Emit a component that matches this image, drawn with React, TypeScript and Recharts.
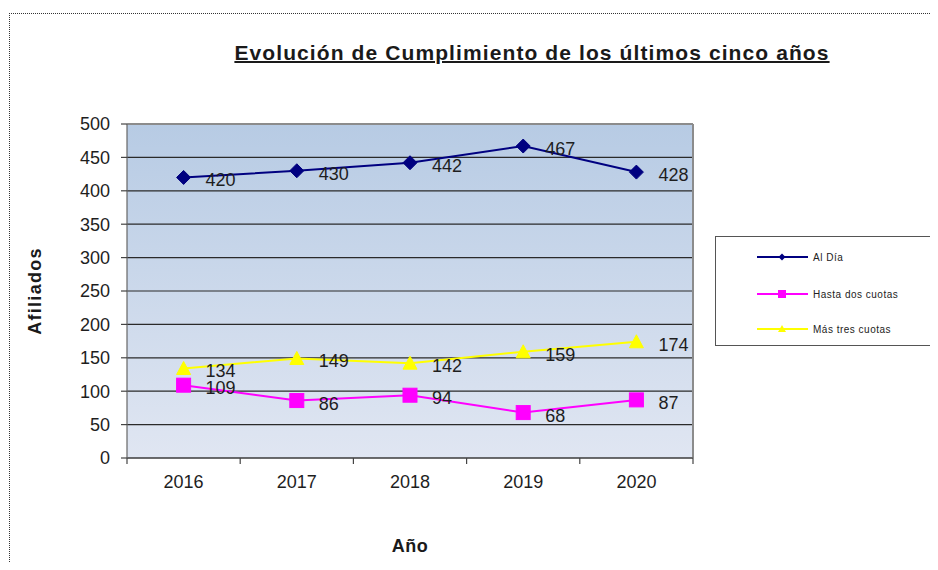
import React from 'react';
import { LineChart, Line, XAxis, YAxis, CartesianGrid, Legend, LabelList, ReferenceLine } from 'recharts';

const years = ['2016', '2017', '2018', '2019', '2020'];
const alDia = [420, 430, 442, 467, 428];
const hastaDos = [109, 86, 94, 68, 87];
const masTres = [134, 149, 142, 159, 174];
const yTicks = [0, 50, 100, 150, 200, 250, 300, 350, 400, 450, 500];
const xTicks = [-0.5, 0, 0.5, 1, 1.5, 2, 2.5, 3, 3.5, 4, 4.5];

const seriesNames = ['Al Día', 'Hasta dos cuotas', 'Más tres cuotas'];
const seriesColors = ['#000080', '#ff00ff', '#ffff00'];

const data = years.map((y, i) => ({
  x: i,
  year: y,
  alDia: alDia[i],
  hastaDos: hastaDos[i],
  masTres: masTres[i],
}));

const FONT = '"Liberation Sans", Arial, sans-serif';

const Diamond = (props: any) => {
  const { cx, cy } = props;
  if (cx == null || cy == null) return null;
  const s = 7;
  return <polygon points={`${cx},${cy - s} ${cx + s},${cy} ${cx},${cy + s} ${cx - s},${cy}`} fill="#000080" stroke="#000080" />;
};
const Square = (props: any) => {
  const { cx, cy } = props;
  if (cx == null || cy == null) return null;
  const s = 7;
  return <rect x={cx - s} y={cy - s} width={2 * s} height={2 * s} fill="#ff00ff" stroke="#ff00ff" />;
};
const Triangle = (props: any) => {
  const { cx, cy } = props;
  if (cx == null || cy == null) return null;
  return <polygon points={`${cx},${cy - 7} ${cx + 7},${cy + 6} ${cx - 7},${cy + 6}`} fill="#ffff00" stroke="#ffff00" />;
};

const ValueLabel = (props: any) => {
  const { x, y, value } = props;
  return (
    <text x={x + 22} y={y + 3} dominantBaseline="central" textAnchor="start" fontSize={18} fontFamily={FONT} fill="#1e1e1e">
      {value}
    </text>
  );
};

const XTick = (props: any) => {
  const { x, y, payload } = props;
  const v = payload.value;
  if (Number.isInteger(v)) {
    return (
      <text x={x} y={y + 18} textAnchor="middle" dominantBaseline="central" fontSize={18} fontFamily={FONT} fill="#1e1e1e">
        {years[v]}
      </text>
    );
  }
  return <line x1={x} x2={x} y1={y - 6} y2={y} stroke="#444" strokeWidth={1.2} />;
};

const legendMarker = (i: number) => {
  const cx = 25;
  const cy = 6;
  if (i === 0) return <polygon points={`${cx},${cy - 3.5} ${cx + 3.5},${cy} ${cx},${cy + 3.5} ${cx - 3.5},${cy}`} fill="#000080" />;
  if (i === 1) return <rect x={cx - 4} y={cy - 4} width={8} height={8} fill="#ff00ff" />;
  return <polygon points={`${cx},${cy - 4} ${cx + 4},${cy + 3} ${cx - 4},${cy + 3}`} fill="#ffff00" />;
};

const LegendBox = () => {
  const rowsY = [20, 57, 92];
  return (
    <div
      style={{
        position: 'relative',
        width: 223,
        height: 110,
        background: '#fff',
        borderLeft: '1px solid #555',
        borderTop: '1px solid #555',
        borderBottom: '1px solid #555',
        boxSizing: 'border-box',
        fontFamily: FONT,
      }}
    >
      {seriesNames.map((n, i) => (
        <div key={n} style={{ position: 'absolute', left: 41, top: rowsY[i] - 6, height: 12, display: 'flex', alignItems: 'center' }}>
          <svg width={51} height={12} style={{ display: 'block' }}>
            <line x1={0} x2={51} y1={6} y2={6} stroke={seriesColors[i]} strokeWidth={2} />
            {legendMarker(i)}
          </svg>
          <span style={{ marginLeft: 5, fontSize: 10, letterSpacing: 0.5, color: '#222', whiteSpace: 'nowrap' }}>{n}</span>
        </div>
      ))}
    </div>
  );
};

export default function App() {
  return (
    <div style={{ position: 'relative', width: 930, height: 554, overflow: 'hidden', background: '#fff' }}>
      <div
        style={{
          position: 'absolute',
          left: 1,
          top: 5,
          width: 940,
          height: 600,
          borderLeft: '1px dotted #333',
          borderTop: '1px dotted #333',
        }}
      />
      <div
        style={{
          position: 'absolute',
          left: 124,
          top: 32,
          width: 800,
          textAlign: 'center',
          fontFamily: FONT,
          fontWeight: 'bold',
          fontSize: 21,
          letterSpacing: 1.1,
          lineHeight: '26px',
          textDecoration: 'underline',
          textDecorationThickness: 2,
          color: '#1a1a1a',
          zIndex: 2,
        }}
      >
        Evolución de Cumplimiento de los últimos cinco años
      </div>
      <LineChart width={930} height={554} data={data} margin={{ top: 116, right: 245, bottom: 0, left: 0 }}>
        <defs>
          <linearGradient id="plotBg" x1="0" y1="0" x2="0" y2="1">
            <stop offset="0" stopColor="#b7cbe4" />
            <stop offset="1" stopColor="#e0e6f2" />
          </linearGradient>
        </defs>
        <CartesianGrid vertical={false} stroke="#2a2a2a" strokeWidth={1.2} fill="url(#plotBg)" fillOpacity={1} />
        <XAxis
          dataKey="x"
          type="number"
          domain={[-0.5, 4.5]}
          ticks={xTicks}
          interval={0}
          tick={<XTick />}
          tickLine={false}
          tickSize={6}
          tickMargin={0}
          height={104}
          axisLine={{ stroke: '#444', strokeWidth: 1.2 }}
          label={{ value: 'Año', position: 'insideBottom', offset: 10, fontSize: 18, letterSpacing: 0.5, fontWeight: 'bold', fontFamily: FONT, fill: '#1a1a1a' }}
        />
        <YAxis
          domain={[0, 500]}
          ticks={yTicks}
          interval={0}
          width={119}
          tickSize={6}
          tickMargin={11}
          tick={{ fontSize: 18, fontFamily: FONT, fill: '#1e1e1e' }}
          tickLine={{ stroke: '#444', strokeWidth: 1.2 }}
          axisLine={{ stroke: '#666', strokeWidth: 1.2 }}
          label={(p: any) => {
            const vb = p.viewBox || {};
            const cx = (vb.x || 0) + 27;
            const cy = (vb.y || 0) + (vb.height || 0) / 2;
            return (
              <text x={cx} y={cy} transform={`rotate(-90 ${cx} ${cy})`} textAnchor="middle" dominantBaseline="central" fontSize={18} letterSpacing={1.3} fontWeight="bold" fontFamily={FONT} fill="#1a1a1a">
                Afiliados
              </text>
            );
          }}
        />
        <ReferenceLine y={500} stroke="#8c8c8c" strokeWidth={2} />
        <ReferenceLine x={4.5} stroke="#8c8c8c" strokeWidth={2} />
        <Legend layout="vertical" align="center" verticalAlign="middle" content={<LegendBox />} wrapperStyle={{ position: 'absolute', left: 707, top: 228, width: 223, height: 110 }} />
        <Line dataKey="alDia" name={seriesNames[0]} stroke="#000080" strokeWidth={2} dot={<Diamond />} activeDot={false} isAnimationActive={false}>
          <LabelList dataKey="alDia" content={<ValueLabel />} />
        </Line>
        <Line dataKey="hastaDos" name={seriesNames[1]} stroke="#ff00ff" strokeWidth={2} dot={<Square />} activeDot={false} isAnimationActive={false}>
          <LabelList dataKey="hastaDos" content={<ValueLabel />} />
        </Line>
        <Line dataKey="masTres" name={seriesNames[2]} stroke="#ffff00" strokeWidth={2} dot={<Triangle />} activeDot={false} isAnimationActive={false}>
          <LabelList dataKey="masTres" content={<ValueLabel />} />
        </Line>
      </LineChart>
    </div>
  );
}
